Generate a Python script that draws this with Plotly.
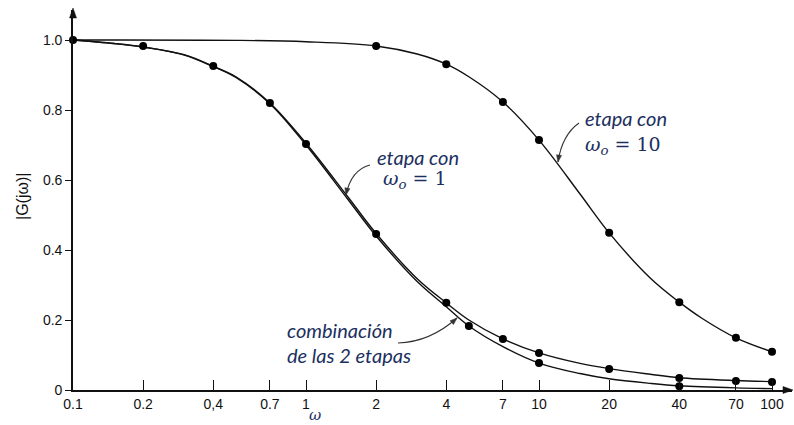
import math
import plotly.graph_objects as go

# Frequency-response magnitude |G(jω)| of two first-order stages and their product
# Smooth curve samples (ω, |G|)
w_curve = [0.1, 0.15, 0.2, 0.3, 0.4, 0.5, 0.7, 1, 1.5, 2, 3, 4, 5, 7, 10, 15, 20, 30, 40, 70, 100]
g_stage1 = [1.0, 0.99, 0.98, 0.958, 0.925, 0.895, 0.82, 0.705, 0.555, 0.447, 0.318, 0.249,
            0.2, 0.146, 0.106, 0.076, 0.061, 0.045, 0.035, 0.027, 0.024]
g_combo = [1.0, 0.99, 0.98, 0.957, 0.924, 0.893, 0.818, 0.70, 0.548, 0.44, 0.31, 0.238,
           0.183, 0.124, 0.077, 0.047, 0.032, 0.019, 0.012, 0.006, 0.004]

w_curve10 = [0.1, 0.5, 1, 2, 3, 4, 5, 7, 10, 15, 20, 30, 40, 50, 70, 100]
g_stage10 = [1.0, 0.999, 0.995, 0.983, 0.96, 0.931, 0.895, 0.823, 0.714, 0.56, 0.449,
             0.32, 0.251, 0.205, 0.149, 0.109]

# Marked points
w_dots1 = [0.1, 0.2, 0.4, 0.7, 1, 2, 4, 7, 10, 20, 40, 70, 100]
g_dots1 = [1.0, 0.983, 0.926, 0.82, 0.703, 0.446, 0.249, 0.146, 0.106, 0.06, 0.034, 0.026, 0.023]
w_dots10 = [2, 4, 7, 10, 20, 40, 70, 100]
g_dots10 = [0.983, 0.931, 0.823, 0.714, 0.449, 0.251, 0.149, 0.109]
w_dotsc = [5, 10, 40]
g_dotsc = [0.183, 0.077, 0.011]

x_ticks = [0.1, 0.2, 0.4, 0.7, 1, 2, 4, 7, 10, 20, 40, 70, 100]
x_labels = ["0.1", "0.2", "0,4", "0.7", "1", "2", "4", "7", "10", "20", "40", "70", "100"]
y_ticks = [0, 0.2, 0.4, 0.6, 0.8, 1.0]
y_labels = ["0", "0.2", "0.4", "0.6", "0.8", "1.0"]

W, H = 794, 425
L, R, T, B = 73, 2, 10, 35
Y_TOP = 1.0857
X_RANGE = [-1, 2.0858]

def px(x):
    return (x - L) / (W - L - R)

def py(y):
    return (H - B - y) / (H - T - B)

line = dict(color="#111111", width=1.4, shape="spline", smoothing=1.0)
dot = dict(color="#000000", size=8)

fig = go.Figure()
fig.add_trace(go.Scatter(x=w_curve, y=g_stage1, mode="lines", line=line, hoverinfo="skip"))
fig.add_trace(go.Scatter(x=w_curve, y=g_combo, mode="lines", line=line, hoverinfo="skip"))
fig.add_trace(go.Scatter(x=w_curve10, y=g_stage10, mode="lines", line=line, hoverinfo="skip"))
fig.add_trace(go.Scatter(x=w_dots1, y=g_dots1, mode="markers", marker=dot, cliponaxis=False))
fig.add_trace(go.Scatter(x=w_dots10, y=g_dots10, mode="markers", marker=dot, cliponaxis=False))
fig.add_trace(go.Scatter(x=w_dotsc, y=g_dotsc, mode="markers", marker=dot, cliponaxis=False))

tick_font = dict(family="Liberation Sans, Arial, sans-serif", size=14, color="#111111")
NAVY = "#1c2f5e"
label_font = dict(family="Lato, Noto Sans, sans-serif", size=20, color=NAVY)
math_font = dict(family="DejaVu Serif, Noto Sans, serif", size=19, color=NAVY)

annotations = []

def text(x, y, s, font):
    annotations.append(dict(x=px(x), y=py(y), xref="paper", yref="paper", text=s,
                            showarrow=False, xanchor="left", yanchor="middle", font=font))

text(375, 157, "<i>etapa con</i>", label_font)
text(381, 179, "<i>ω</i><sub><i>o</i></sub> = 1", math_font)
text(583, 118, "<i>etapa con</i>", label_font)
text(583, 145, "<i>ω</i><sub><i>o</i></sub> = 10", math_font)
text(285, 330, "<i>combinación</i>", label_font)
text(285, 355, "<i>de las 2 etapas</i>", label_font)

# axis titles
annotations.append(dict(x=px(315), y=py(415), xref="paper", yref="paper", text="<i>ω</i>",
                        showarrow=False, xanchor="center", yanchor="middle",
                        font=dict(family="DejaVu Serif, serif", size=15, color=NAVY)))
annotations.append(dict(x=px(22), y=py(197), xref="paper", yref="paper", text="|G(jω)|",
                        showarrow=False, textangle=-90, xanchor="center", yanchor="middle",
                        font=dict(family="Liberation Sans, Arial, sans-serif", size=16,
                                  color="#111111")))

def curve(pts):
    (x0, y0), (cx, cy), (x1, y1) = pts
    return f"M {px(x0)},{py(y0)} Q {px(cx)},{py(cy)} {px(x1)},{py(y1)}"

def triangle(tip, frm, length, half):
    tx, ty = tip
    dx, dy = tx - frm[0], ty - frm[1]
    n = math.hypot(dx, dy)
    ux, uy = dx / n, dy / n
    bx, by = tx - ux * length, ty - uy * length
    p1 = (bx - uy * half, by + ux * half)
    p2 = (bx + uy * half, by - ux * half)
    return (f"M {px(tx)},{py(ty)} L {px(p1[0])},{py(p1[1])} "
            f"L {px(p2[0])},{py(p2[1])} Z")

pointer_paths = [
    [(370, 165), (351, 170), (346, 195)],
    [(579, 123), (562, 135), (558, 162)],
    [(398, 343), (430, 342), (457, 318)],
]
shapes = []
for p in pointer_paths:
    shapes.append(dict(type="path", xref="paper", yref="paper", path=curve(p),
                       line=dict(color="#333333", width=1.1)))
    shapes.append(dict(type="path", xref="paper", yref="paper",
                       path=triangle(p[2], p[1], 7, 2.6),
                       fillcolor="#333333", line=dict(color="#333333", width=0.5)))

# axis end arrowheads
x_end, y_top_px, x0_px, y0_px = W - R, T, L, H - B
shapes.append(dict(type="path", xref="paper", yref="paper",
                   path=triangle((x0_px, y_top_px - 2), (x0_px, y_top_px + 20), 10, 3.5),
                   fillcolor="#111111", line=dict(color="#111111", width=0.5)))
shapes.append(dict(type="path", xref="paper", yref="paper",
                   path=triangle((x_end + 1, y0_px), (x_end - 20, y0_px), 10, 3.5),
                   fillcolor="#111111", line=dict(color="#111111", width=0.5)))

fig.update_layout(
    width=W, height=H,
    margin=dict(l=L, r=R, t=T, b=B),
    paper_bgcolor="white", plot_bgcolor="white",
    showlegend=False,
    annotations=annotations,
    shapes=shapes,
    xaxis=dict(type="log", range=X_RANGE, tickvals=x_ticks, ticktext=x_labels,
               ticks="inside", ticklen=10, tickwidth=1.2, tickcolor="#111111",
               showline=True, linecolor="#111111", linewidth=1.6,
               showgrid=False, zeroline=False, tickfont=tick_font),
    yaxis=dict(range=[0, Y_TOP], tickvals=y_ticks, ticktext=y_labels,
               ticks="outside", ticklen=6, tickwidth=1.2, tickcolor="#111111",
               showline=True, linecolor="#111111", linewidth=1.6,
               showgrid=False, zeroline=False, tickfont=tick_font),
)

fig.write_html("out.html")
